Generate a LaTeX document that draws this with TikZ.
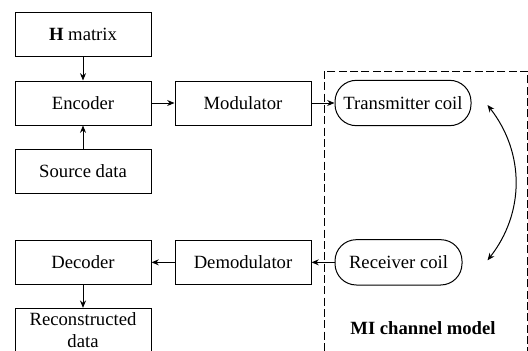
\documentclass[tikz,border=0pt]{standalone}
\usepackage{fontspec}
\setmainfont{Liberation Serif}
\usetikzlibrary{arrows.meta, positioning, calc}

\begin{document}
\begin{tikzpicture}[
    node distance=17.25pt and 17.25pt,
    font=\fontsize{14pt}{16.5pt}\selectfont,
    % Plain Block Style
    block/.style={
        rectangle,
        draw=black,
        line width=0.75pt,
        minimum width=102pt,
        minimum height=33pt,
        inner sep=3pt,
        align=center
    },
    % Coil Nodes (Rounded Ends)
    coil/.style={
        rectangle,
        rounded corners=16pt,
        draw=black,
        line width=0.75pt,
        minimum width=102pt,
        minimum height=34pt,
        align=center
    },
    % Signal Arrows
    flow/.style={
        draw,
        line width=0.75pt,
        -{Stealth[length=5.5pt, width=4.5pt]}
    },
    % Coupling Arrow
    link/.style={
        draw,
        line width=0.75pt,
        {Stealth[length=5.5pt, width=4.5pt]}-{Stealth[length=5.5pt, width=4.5pt]}
    },
    % Channel Frame
    frame/.style={
        draw,
        line width=0.75pt,
        dash pattern=on 6pt off 2.5pt
    },
    chantext/.style={
        font=\fontsize{14pt}{16.5pt}\selectfont\bfseries
    }
]

% --- CANVAS ---
\clip (0,0) rectangle (396pt,-262.5pt);

% --- TRANSMITTER SIDE ---
\node[block] (Hmat) at (62.25pt,-25.5pt) {\textbf{H} matrix};
\node[block, below=18pt of Hmat] (Enc) {Encoder};
\node[block, below=of Enc] (Src) {Source data};
\node[block, right=of Enc] (Mod) {Modulator};

% --- MI CHANNEL ---
\node[coil, right=of Mod] (Tx) {Transmitter coil};
\node[coil, minimum width=95.25pt, anchor=north west] (Rx) at ([yshift=-84.75pt]Tx.south west) {Receiver coil};
\draw[frame] (243pt,-53.25pt) rectangle (395.25pt,-275pt);
\node[chantext] (ChanLabel) at (317.25pt,-246pt) {MI channel model};

% --- RECEIVER SIDE ---
\node[block, left=of Rx] (Demod) {Demodulator};
\node[block, left=of Demod] (Dec) {Decoder};
\node[block, below=of Dec, text width=96pt] (Rec) {Reconstructed\\data};

% --- CONNECTIONS ---
\draw[flow] (Hmat) -- (Enc);
\draw[flow] (Src) -- (Enc);
\draw[flow] (Enc) -- (Mod);
\draw[flow] (Mod) -- (Tx);
\draw[flow] (Rx) -- (Demod);
\draw[flow] (Demod) -- (Dec);
\draw[flow] (Dec) -- (Rec);

% Coupling between coils
\coordinate (TopEnd) at ([xshift=12pt, yshift=-1.5pt]Tx.east);
\coordinate (BotEnd) at ([xshift=18.75pt, yshift=1.5pt]Rx.east);
\draw[link] (TopEnd) to[bend left=38] (BotEnd);

\end{tikzpicture}
\end{document}
